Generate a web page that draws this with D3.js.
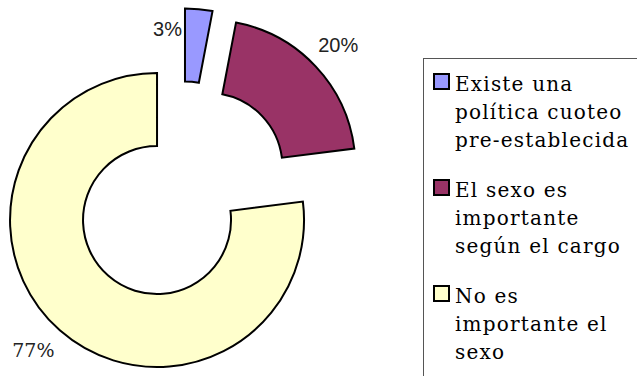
<!DOCTYPE html>
<html>
<head>
<meta charset="utf-8">
<script src="https://cdn.jsdelivr.net/npm/d3@7"></script>
<style>
    body { margin: 0; background: #fff; }
    svg { display: block; }
</style>
</head>
<body>
<svg id="chart"></svg>
<script>
const values = [3, 20, 77];
const valueLabels = ['3%', '20%', '77%'];
const legendLines = [
    ['Existe una', 'política cuoteo', 'pre-establecida'],
    ['El sexo es', 'importante', 'según el cargo'],
    ['No es', 'importante el', 'sexo']
];
const colors = ['#9999FF', '#993366', '#FFFFCC'];

const width = 637, height = 376;
const cx = 181.5, cy = 192.3;
const outerR = 147, innerR = 74, explode = 37;
const serif = "'DejaVu Serif', serif";
const sans = "'Liberation Sans', Arial, sans-serif";

const svg = d3.select('#chart')
    .attr('width', width)
    .attr('height', height);

const pie = d3.pie().sort(null).value(d => d);
const arcs = pie(values);

const arc = d3.arc()
    .innerRadius(innerR)
    .outerRadius(outerR);

const chart = svg.append('g')
    .attr('transform', `translate(${cx}, ${cy})`);

const offset = d => {
    const mid = (d.startAngle + d.endAngle) / 2;
    return [explode * Math.sin(mid), -explode * Math.cos(mid)];
};

chart.selectAll('path')
    .data(arcs)
    .enter()
    .append('path')
    .attr('transform', d => `translate(${offset(d)[0]}, ${offset(d)[1]})`)
    .attr('d', arc)
    .attr('fill', (d, i) => colors[i])
    .attr('stroke', '#000')
    .attr('stroke-width', 2)
    .attr('stroke-linejoin', 'miter');

// labels outside the slices, pushed to the side when they would leave the top
const labelR = explode + outerR + 31;
chart.selectAll('text.val')
    .data(arcs)
    .enter()
    .append('text')
    .attr('class', 'val')
    .each(function (d, i) {
        const mid = (d.startAngle + d.endAngle) / 2;
        let x = labelR * Math.sin(mid);
        let y = -labelR * Math.cos(mid);
        let anchor = 'middle';
        if (y + cy < 29) {
            const o = offset(d);
            x = o[0] + outerR * Math.sin(d.startAngle) - 3;
            y = 29 - cy;
            anchor = 'end';
        }
        const big = d.value > 50;
        if (big) { x -= 6; y -= 3; }
        d3.select(this)
            .attr('x', x)
            .attr('y', y)
            .attr('dy', '0.36em')
            .attr('text-anchor', anchor)
            .style('font-family', big ? serif : sans)
            .style('font-size', big ? '19px' : '20px')
            .attr('fill', '#222')
            .text(valueLabels[i]);
    });

// legend
const legend = svg.append('g');
legend.append('rect')
    .attr('x', 423.5)
    .attr('y', 58.5)
    .attr('width', 300)
    .attr('height', 400)
    .attr('fill', '#fff')
    .attr('stroke', '#555')
    .attr('stroke-width', 1);

const lineH = 28, groupH = 106, firstBase = 91;
const items = legend.selectAll('g.item')
    .data(legendLines)
    .enter()
    .append('g')
    .attr('class', 'item')
    .attr('transform', (d, i) => `translate(0, ${firstBase + i * groupH})`);

items.append('rect')
    .attr('x', 434)
    .attr('y', -17)
    .attr('width', 15)
    .attr('height', 15)
    .attr('fill', (d, i) => colors[i])
    .attr('stroke', '#000')
    .attr('stroke-width', 2);

items.append('text')
    .attr('x', 455)
    .attr('y', 0)
    .style('font-family', serif)
    .style('font-size', '20px')
    .style('letter-spacing', '1.2px')
    .attr('fill', '#000')
    .selectAll('tspan')
    .data(d => d)
    .enter()
    .append('tspan')
    .attr('x', 455)
    .attr('y', (d, j) => j * lineH)
    .text(d => d);
</script>
</body>
</html>
